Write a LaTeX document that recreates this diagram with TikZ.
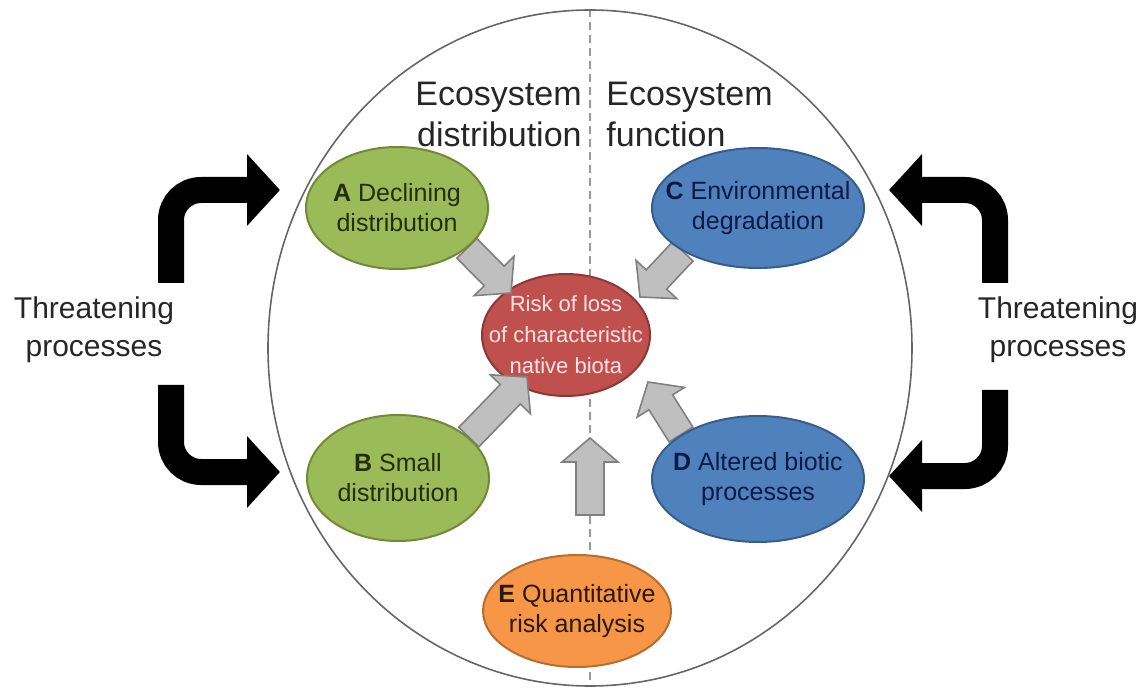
\documentclass[tikz,border=0pt]{standalone}
\usepackage{fontspec}
\setmainfont{Liberation Sans}
\usetikzlibrary{shapes.geometric,arrows.meta,calc}

\definecolor{leafgreen}{RGB}{155,187,89}
\definecolor{leafedge}{RGB}{113,137,56}
\definecolor{leafink}{RGB}{35,45,15}
\definecolor{seablue}{RGB}{79,129,189}
\definecolor{seaedge}{RGB}{56,93,138}
\definecolor{seaink}{RGB}{15,25,70}
\definecolor{riskred}{RGB}{192,80,77}
\definecolor{riskedge}{RGB}{140,56,54}
\definecolor{riskpink}{RGB}{255,228,228}
\definecolor{quantorange}{RGB}{247,150,70}
\definecolor{quantedge}{RGB}{182,109,49}
\definecolor{quantink}{RGB}{40,25,10}
\definecolor{arrowgray}{RGB}{191,191,191}
\definecolor{arrowedge}{RGB}{128,128,128}

\pgfdeclarelayer{background}
\pgfsetlayers{background,main}

\tikzset{
  bubble/.style={ellipse, line width=1pt, inner sep=-18pt, align=center,
    font=\fontsize{12.5}{15}\selectfont},
  greenbubble/.style={bubble, draw=leafedge, fill=leafgreen, text=leafink},
  bluebubble/.style={bubble, draw=seaedge, fill=seablue, text=seaink},
  orangebubble/.style={bubble, draw=quantedge, fill=quantorange, text=quantink},
  redbubble/.style={bubble, draw=riskedge, fill=riskred, text=riskpink,
    font=\fontsize{11}{15.5}\selectfont},
  headtext/.style={inner sep=0pt, text=black!85, font=\fontsize{17}{20.5}\selectfont},
  sidetext/.style={inner sep=0pt, align=center, text=black!85,
    font=\fontsize{15}{19}\selectfont},
  bigarrow/.style={line width=13pt, rounded corners=15pt,
    -{Triangle[length=16.5pt,width=35pt]}},
  grayarrow/.style={draw=arrowedge, fill=arrowgray, line width=0.8pt}
}

\begin{document}
\begin{tikzpicture}[x=0.5pt,y=-0.5pt]
  \useasboundingbox (0,0) rectangle (1148,690);

  % outer ring
  \node[ellipse, draw=black!60, line width=0.8pt, inner sep=0pt,
        minimum width=322pt, minimum height=338pt] (ring) at (590,348) {};

  % headings
  \node[headtext, anchor=east, align=right] (distlabel) at (582,114) {Ecosystem\\distribution};
  \node[headtext, anchor=west, align=left] (funclabel) at (606,114) {Ecosystem\\function};

  % criteria
  \node[greenbubble, minimum width=91pt, minimum height=61pt] (A) at (397,208) {\textbf{A} Declining\\distribution};
  \node[greenbubble, minimum width=91pt, minimum height=63pt] (B) at (398,478) {\textbf{B} Small\\distribution};
  \node[bluebubble, minimum width=106pt, minimum height=60pt] (C) at (758,208) {\textbf{C} Environmental\\degradation};
  \node[bluebubble, minimum width=106pt, minimum height=63pt] (D) at (758,479) {\textbf{D} Altered biotic\\processes};
  \node[orangebubble, minimum width=94pt, minimum height=56pt] (E) at (577,611) {\textbf{E} Quantitative\\risk analysis};

  % threatening processes
  \node[sidetext] (threatL) at (94,330) {Threatening\\processes};
  \node[sidetext] (threatR) at (1058,330) {Threatening\\processes};

  \coordinate (lt0) at (171,283);
  \coordinate (lt1) at (280,190);
  \coordinate (lb0) at (171,385);
  \coordinate (lb1) at (280,472);
  \coordinate (rt0) at (995,283);
  \coordinate (rt1) at (889,190);
  \coordinate (rb0) at (995,390);
  \coordinate (rb1) at (889,476);
  \draw[bigarrow] (lt0) |- (lt1);
  \draw[bigarrow] (lb0) |- (lb1);
  \draw[bigarrow] (rt0) |- (rt1);
  \draw[bigarrow] (rb0) |- (rb1);

  % gray arrows into the risk node
  \coordinate (tipA) at (511,293);
  \coordinate (tipC) at (640,297);
  \coordinate (tipB) at (527,377);
  \coordinate (tipD) at (648,382);
  \coordinate (tipE) at (590,438);
  \coordinate (baseE) at (590,515);
  \begin{pgfonlayer}{background}
    \draw[black!40, line width=1.2pt, dash pattern=on 4pt off 2.5pt] (ring.north) -- (ring.south);
    \node[redbubble, minimum width=84pt, minimum height=61pt] (risk) at (566,335) {Risk of loss\\of characteristic\\native biota};
    \foreach \p/\q in {A.-30/tipA, C.-150/tipC, B.30/tipB, D.150/tipD, baseE/tipE} {
      \coordinate (hd) at ($(\q)!12pt!(\p)$);
      \draw[grayarrow] ($(\p)!7pt!90:(\q)$) -- ($(hd)!7pt!90:(\q)$)
        -- ($(hd)!14pt!90:(\q)$) -- (\q) -- ($(hd)!14pt!-90:(\q)$)
        -- ($(hd)!7pt!-90:(\q)$) -- ($(\p)!7pt!-90:(\q)$) -- cycle;
    }
  \end{pgfonlayer}
\end{tikzpicture}
\end{document}
